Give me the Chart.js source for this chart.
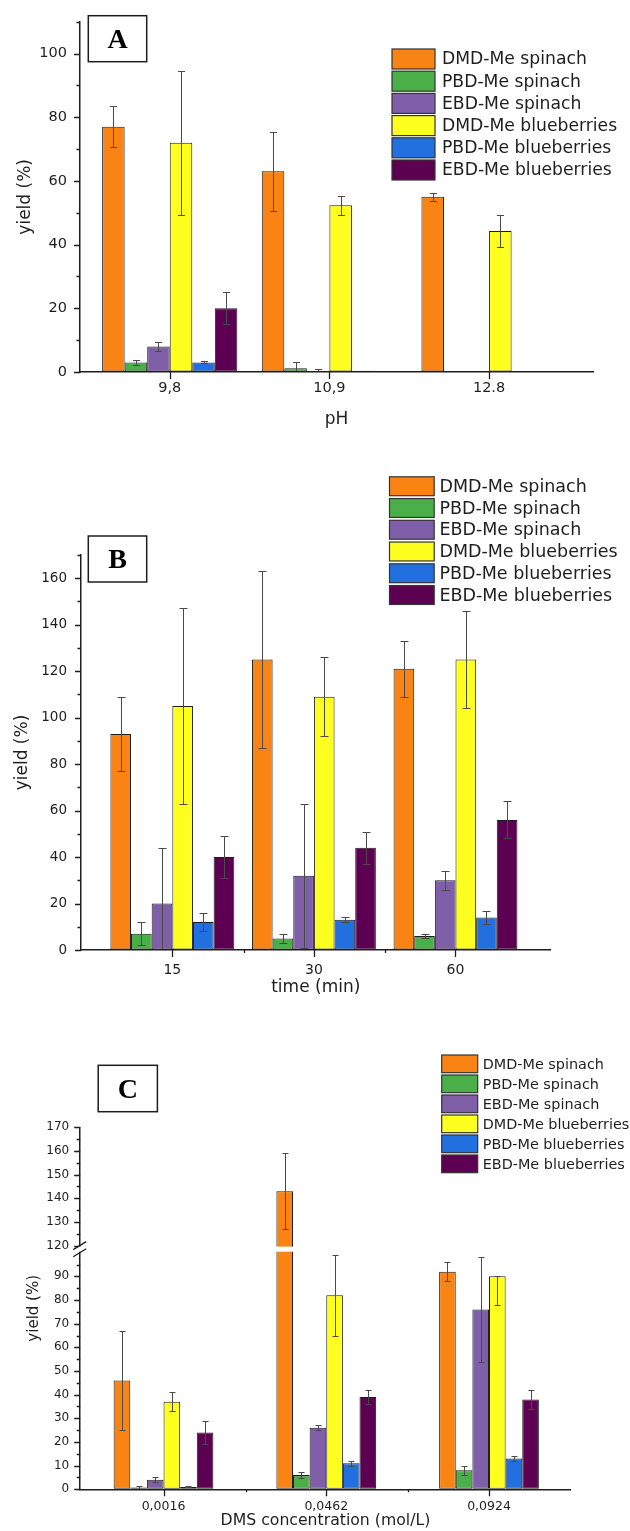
<!DOCTYPE html>
<html>
<head>
<meta charset="utf-8">
<script src="https://cdn.jsdelivr.net/npm/chart.js@4.4.1/dist/chart.umd.min.js"></script>
<style>
  body { margin: 0; background: #fff; width: 630px; height: 1531px; position: relative; overflow: hidden; }
  canvas { position: absolute; left: 0; }
</style>
</head>
<body>
<canvas id="chartA" width="630" height="440" style="top:0px"></canvas>
<canvas id="chartB" width="630" height="565" style="top:440px"></canvas>
<canvas id="chartC" width="630" height="531" style="top:1000px"></canvas>
<script>
const seriesNames = ['DMD-Me spinach', 'PBD-Me spinach', 'EBD-Me spinach',
                     'DMD-Me blueberries', 'PBD-Me blueberries', 'EBD-Me blueberries'];
const seriesColors = ['#f98413', '#4aaf48', '#7e5fa8', '#ffff1f', '#2270e0', '#5e0052'];

// A: yield vs pH
const phLabels = ['9,8', '10,9', '12.8'];
const phDmdSpinach = [77, 63, 55];
const phPbdSpinach = [3, 1.2, 0];
const phEbdSpinach = [8, 0.3, 0];
const phDmdBlue = [72, 52.4, 44.3];
const phPbdBlue = [3, 0.4, 0];
const phEbdBlue = [20, 0, 0];
const phDmdSpinachErr = [6.5, 12.5, 1.2];
const phPbdSpinachErr = [0.7, 1.8, 0];
const phEbdSpinachErr = [1.4, 0.5, 0];
const phDmdBlueErr = [22.6, 3, 5];
const phPbdBlueErr = [0.3, 0, 0];
const phEbdBlueErr = [5, 0, 0];

// B: yield vs time
const timeLabels = ['15', '30', '60'];
const tDmdSpinach = [93, 125, 121];
const tPbdSpinach = [7, 5, 6];
const tEbdSpinach = [20, 32, 30];
const tDmdBlue = [105, 109, 125];
const tPbdBlue = [12, 13, 14];
const tEbdBlue = [40, 44, 56];
const tDmdSpinachErr = [16, 38, 12];
const tPbdSpinachErr = [5, 2, 1];
const tEbdSpinachErr = [24, 31, 4];
const tDmdBlueErr = [42, 17, 21];
const tPbdBlueErr = [4, 1, 3];
const tEbdBlueErr = [9, 7, 8];

// C: yield vs DMS concentration (broken axis 100..120)
const dmsLabels = ['0,0016', '0,0462', '0,0924'];
const cDmdSpinach = [46, 143, 92];
const cPbdSpinach = [0.8, 6, 8];
const cEbdSpinach = [4, 26, 76];
const cDmdBlue = [37, 82, 90];
const cPbdBlue = [1, 11, 13];
const cEbdBlue = [24, 39, 38];
const cDmdSpinachErr = [21, 16, 4];
const cPbdSpinachErr = [0.8, 1.2, 2];
const cEbdSpinachErr = [1, 1, 22];
const cDmdBlueErr = [4, 17, [12, 0]];
const cPbdBlueErr = [0.2, 1, 1];
const cEbdBlueErr = [5, 3, 4];

const INK = '#1e1e1e';
const FONT = '"DejaVu Sans", Verdana, sans-serif';

// axis break: values above 120 are shifted down so 120 sits just above 100
const breakY = v => (v <= 100 ? v : v - 17);
const unbreakY = t => (t <= 100 ? t : t + 17);

function makeDatasets(values, errors, tf) {
    return values.map((vals, s) => ({
        label: seriesNames[s],
        data: vals.map((v, i) => ({ x: i + 1, y: tf(v) })),
        raw: vals,
        err: errors[s],
        backgroundColor: seriesColors[s],
        borderColor: INK,
        borderWidth: 1,
        borderSkipped: false
    }));
}

function errorBarPlugin(cap, tf) {
    return {
        id: 'errorBars',
        afterDatasetsDraw(chart) {
            const ctx = chart.ctx;
            const y = chart.scales.y;
            const a = chart.chartArea;
            ctx.save();
            ctx.beginPath();
            ctx.rect(a.left, a.top, a.right - a.left, a.bottom - a.top);
            ctx.clip();
            ctx.strokeStyle = '#4a4a4a';
            ctx.lineWidth = 1;
            chart.data.datasets.forEach((ds, di) => {
                chart.getDatasetMeta(di).data.forEach((bar, i) => {
                    const e = ds.err[i];
                    if (!e) return;
                    const [lo, hi] = Array.isArray(e) ? e : [e, e];
                    const v = ds.raw[i];
                    const x = Math.round(bar.x) + 0.5;
                    const yHi = Math.round(y.getPixelForValue(tf(v + hi))) + 0.5;
                    const yLo = Math.round(y.getPixelForValue(tf(v - lo))) + 0.5;
                    ctx.beginPath();
                    ctx.moveTo(x, yHi); ctx.lineTo(x, yLo);
                    ctx.moveTo(x - cap / 2, yHi); ctx.lineTo(x + cap / 2, yHi);
                    ctx.moveTo(x - cap / 2, yLo); ctx.lineTo(x + cap / 2, yLo);
                    ctx.stroke();
                });
            });
            ctx.restore();
        }
    };
}

function axisMarksPlugin(isMajorY, minorX) {
    return {
        id: 'axisMarks',
        afterDraw(chart) {
            const ctx = chart.ctx;
            const xs = chart.scales.x, ys = chart.scales.y, a = chart.chartArea;
            ctx.save();
            ctx.strokeStyle = INK;
            ctx.lineWidth = 1.3;
            ctx.beginPath();
            ys.ticks.forEach(t => {
                const py = Math.round(ys.getPixelForValue(t.value)) + 0.5;
                const len = isMajorY(t.value) ? 6 : 3.5;
                ctx.moveTo(a.left - len, py); ctx.lineTo(a.left, py);
            });
            let prev = null;
            xs.ticks.forEach(t => {
                const px = Math.round(xs.getPixelForValue(t.value)) + 0.5;
                ctx.moveTo(px, a.bottom); ctx.lineTo(px, a.bottom + 7);
                if (minorX && prev !== null) {
                    const mid = Math.round((px + prev) / 2) + 0.5;
                    ctx.moveTo(mid, a.bottom); ctx.lineTo(mid, a.bottom + 3);
                }
                prev = px;
            });
            ctx.stroke();
            ctx.restore();
        }
    };
}

function legendPlugin(cfg) {
    return {
        id: 'boxLegend',
        afterDraw(chart) {
            const ctx = chart.ctx;
            ctx.save();
            ctx.font = cfg.size + 'px ' + FONT;
            ctx.textBaseline = 'middle';
            chart.data.datasets.forEach((ds, i) => {
                const top = cfg.y + i * cfg.pitch;
                ctx.fillStyle = ds.backgroundColor;
                ctx.fillRect(cfg.x, top, cfg.w, cfg.h);
                ctx.strokeStyle = '#333';
                ctx.lineWidth = 1.2;
                ctx.strokeRect(cfg.x, top, cfg.w, cfg.h);
                ctx.fillStyle = INK;
                ctx.fillText(ds.label, cfg.textX, top + cfg.h / 2 + 1);
            });
            ctx.restore();
        }
    };
}

function panelTagPlugin(cfg) {
    return {
        id: 'panelTag',
        afterDraw(chart) {
            const ctx = chart.ctx;
            ctx.save();
            ctx.fillStyle = '#fff';
            ctx.fillRect(cfg.x, cfg.y, cfg.w, cfg.h);
            ctx.strokeStyle = INK;
            ctx.lineWidth = 1.5;
            ctx.strokeRect(cfg.x, cfg.y, cfg.w, cfg.h);
            ctx.fillStyle = '#000';
            ctx.font = 'bold 28px "Liberation Serif", "Times New Roman", serif';
            ctx.textAlign = 'center';
            ctx.textBaseline = 'middle';
            ctx.fillText(cfg.text, cfg.x + cfg.w / 2, cfg.y + cfg.h / 2 + 2);
            ctx.restore();
        }
    };
}

const axisBreakPlugin = {
    id: 'axisBreak',
    afterDraw(chart) {
        const ctx = chart.ctx;
        const ys = chart.scales.y, a = chart.chartArea;
        const yTop = ys.getPixelForValue(103);
        const yBot = ys.getPixelForValue(100);
        ctx.save();
        ctx.fillStyle = '#fff';
        ctx.fillRect(a.left - 2, yTop + 1, a.right - a.left + 2, yBot - yTop - 2);
        ctx.strokeStyle = INK;
        ctx.lineWidth = 1.3;
        ctx.beginPath();
        [yTop, yBot].forEach(py => {
            ctx.moveTo(a.left - 7, py + 4);
            ctx.lineTo(a.left + 6, py - 4);
        });
        ctx.stroke();
        ctx.restore();
    }
};

function buildChart(id, cfg) {
    return new Chart(document.getElementById(id), {
        type: 'bar',
        data: { datasets: cfg.datasets },
        options: {
            responsive: false,
            animation: false,
            devicePixelRatio: 1,
            layout: { padding: cfg.padding },
            datasets: { bar: { categoryPercentage: cfg.groupWidth, barPercentage: 1 } },
            plugins: { legend: { display: false }, tooltip: { enabled: false } },
            scales: {
                x: {
                    type: 'linear',
                    min: cfg.xMin,
                    max: cfg.xMax,
                    offset: false,
                    grid: { display: true, drawOnChartArea: false, drawTicks: false },
                    border: { display: true, color: INK, width: 1.5, z: 1 },
                    ticks: {
                        autoSkip: false,
                        maxRotation: 0,
                        padding: cfg.xPad,
                        color: INK,
                        font: { family: FONT, size: cfg.xFont },
                        callback: (v, i) => cfg.labels[i]
                    },
                    afterBuildTicks: s => { s.ticks = cfg.labels.map((_, i) => ({ value: i + 1 })); },
                    afterFit: s => { s.height = cfg.xHeight; },
                    title: {
                        display: true,
                        text: cfg.xTitle,
                        color: INK,
                        font: { family: FONT, size: cfg.xTitleFont },
                        padding: { top: 0, bottom: cfg.xTitlePad }
                    }
                },
                y: {
                    min: 0,
                    max: cfg.yMax,
                    grid: { display: true, drawOnChartArea: false, drawTicks: false },
                    border: { display: true, color: INK, width: 1.5, z: 1 },
                    ticks: {
                        autoSkip: false,
                        padding: cfg.yPad,
                        color: INK,
                        font: { family: FONT, size: cfg.yFont },
                        callback: cfg.yLabel
                    },
                    afterBuildTicks: s => { s.ticks = cfg.yTicks.map(v => ({ value: v })); },
                    afterFit: s => { s.width = cfg.yWidth; },
                    title: {
                        display: true,
                        text: 'yield (%)',
                        color: INK,
                        font: { family: FONT, size: cfg.yTitleFont },
                        padding: { top: cfg.yTitlePad, bottom: 0 }
                    }
                }
            }
        },
        plugins: cfg.plugins
    });
}

const same = v => v;
const stepList = (from, to, step) => {
    const out = [];
    for (let v = from; v <= to + 1e-9; v += step) out.push(v);
    return out;
};

// ---- A ----
buildChart('chartA', {
    datasets: makeDatasets(
        [phDmdSpinach, phPbdSpinach, phEbdSpinach, phDmdBlue, phPbdBlue, phEbdBlue],
        [phDmdSpinachErr, phPbdSpinachErr, phEbdSpinachErr, phDmdBlueErr, phPbdBlueErr, phEbdBlueErr],
        same),
    labels: phLabels,
    padding: { top: 13, right: 37, bottom: 0, left: 0 },
    groupWidth: 0.847,
    xMin: 0.438, xMax: 3.651,
    xPad: 8, xFont: 14.5, xHeight: 68,
    xTitle: 'pH', xTitleFont: 17, xTitlePad: 9.8,
    yMax: 110, yTicks: stepList(0, 110, 10),
    yLabel: v => (v % 20 === 0 && v <= 100 ? String(v) : ''),
    yPad: 13, yFont: 14.5, yWidth: 80, yTitleFont: 17, yTitlePad: 15,
    plugins: [
        errorBarPlugin(7, same),
        axisMarksPlugin(v => v % 20 === 0 && v <= 100, false),
        legendPlugin({ x: 392, y: 49, w: 43, h: 20, pitch: 22.2, textX: 442, size: 17.2 }),
        panelTagPlugin({ x: 88.3, y: 15.7, w: 58.4, h: 46, text: 'A' })
    ]
});

// ---- B ----
buildChart('chartB', {
    datasets: makeDatasets(
        [tDmdSpinach, tPbdSpinach, tEbdSpinach, tDmdBlue, tPbdBlue, tEbdBlue],
        [tDmdSpinachErr, tPbdSpinachErr, tEbdSpinachErr, tDmdBlueErr, tPbdBlueErr, tEbdBlueErr],
        same),
    labels: timeLabels,
    padding: { top: 115, right: 79.5, bottom: 0, left: 0 },
    groupWidth: 0.875,
    xMin: 0.355, xMax: 3.671,
    xPad: 11.5, xFont: 14, xHeight: 55,
    xTitle: 'time (min)', xTitleFont: 17, xTitlePad: 6.8,
    yMax: 170, yTicks: stepList(0, 170, 10),
    yLabel: v => (v % 20 === 0 && v <= 160 ? String(v) : ''),
    yPad: 14, yFont: 13.5, yWidth: 81, yTitleFont: 17, yTitlePad: 12.8,
    plugins: [
        errorBarPlugin(8, same),
        axisMarksPlugin(v => v % 20 === 0 && v <= 160, true),
        legendPlugin({ x: 389.5, y: 36.8, w: 44.7, h: 18.9, pitch: 21.75, textX: 439.4, size: 17.5 }),
        panelTagPlugin({ x: 88.3, y: 96, w: 58.4, h: 46, text: 'B' })
    ]
});

// ---- C ----
buildChart('chartC', {
    datasets: makeDatasets(
        [cDmdSpinach, cPbdSpinach, cEbdSpinach, cDmdBlue, cPbdBlue, cEbdBlue],
        [cDmdSpinachErr, cPbdSpinachErr, cEbdSpinachErr, cDmdBlueErr, cPbdBlueErr, cEbdBlueErr],
        breakY),
    labels: dmsLabels,
    padding: { top: 127.3, right: 59.3, bottom: 0, left: 0 },
    groupWidth: 0.613,
    xMin: 0.488, xMax: 3.502,
    xPad: 9.5, xFont: 12.5, xHeight: 41.7,
    xTitle: 'DMS concentration (mol/L)', xTitleFont: 15.7, xTitlePad: 0.6,
    yMax: breakY(170),
    yTicks: stepList(0, 95, 5).concat(stepList(120, 170, 5).map(breakY)),
    yLabel: v => (unbreakY(v) % 10 === 0 ? String(unbreakY(v)) : ''),
    yPad: 11, yFont: 12, yWidth: 80.2, yTitleFont: 15, yTitlePad: 25,
    plugins: [
        errorBarPlugin(6, breakY),
        axisMarksPlugin(v => unbreakY(v) % 10 === 0, true),
        axisBreakPlugin,
        legendPlugin({ x: 441.7, y: 55, w: 36, h: 17.7, pitch: 20, textX: 482.7, size: 14.4 }),
        panelTagPlugin({ x: 98.2, y: 65.3, w: 59.2, h: 46.4, text: 'C' })
    ]
});
</script>
</body>
</html>
